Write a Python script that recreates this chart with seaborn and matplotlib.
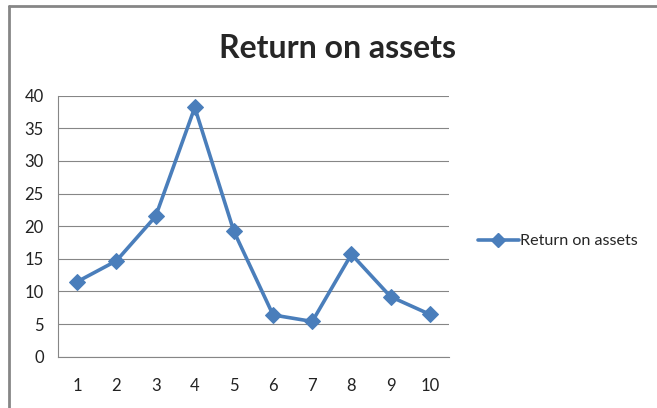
import numpy as np
import pandas as pd
import matplotlib
matplotlib.use("Agg")
import matplotlib.pyplot as plt
import seaborn as sns
from matplotlib.lines import Line2D

# Datos
periods = [1, 2, 3, 4, 5, 6, 7, 8, 9, 10]
roa = [11.5, 14.7, 21.5, 38.2, 19.2, 6.4, 5.4, 15.7, 9.2, 6.5]
y_ticks = [0, 5, 10, 15, 20, 25, 30, 35, 40]

SERIES = "Return on assets"
BLUE = "#4A7EBB"
GREY = "#868686"

df = pd.DataFrame({"period": periods, "value": roa})

sns.set_style("white")
plt.rcParams["font.family"] = ["Lato", "DejaVu Sans"]

fig = plt.figure(figsize=(6.57, 4.08), dpi=100)
ax = fig.add_axes([0.0878, 0.1257, 0.5961, 0.6397])

sns.lineplot(data=df, x="period", y="value", ax=ax, color=BLUE, linewidth=2.6,
             marker="D", markersize=8.5, markeredgecolor=BLUE, legend=False)

ax.set_xlim(0.5, 10.5)
ax.set_ylim(0, 40)
ax.set_yticks(y_ticks)
ax.set_xticks(periods)
ax.set_xticks(np.arange(0.5, 11, 1), minor=True)
ax.tick_params(axis="x", which="major", length=0, pad=15, labelsize=12, colors="#222222")
ax.tick_params(axis="x", which="minor", length=5, color=GREY, width=0.8)
ax.tick_params(axis="y", length=5, color=GREY, width=0.8, labelsize=12, colors="#222222", pad=5)
ax.yaxis.grid(True, color=GREY, linewidth=0.8)
ax.set_axisbelow(True)
ax.set_xlabel("")
ax.set_ylabel("")
for side in ["top", "right"]:
    ax.spines[side].set_visible(False)
for side in ["left", "bottom"]:
    ax.spines[side].set_color(GREY)
    ax.spines[side].set_linewidth(0.8)

fig.text(0.513, 0.882, SERIES, ha="center", va="center", fontsize=23, fontweight="bold")

handle = Line2D([], [], color=BLUE, linewidth=2.6, marker="D", markersize=7.5)
fig.legend([handle], [SERIES], loc="center left", bbox_to_anchor=(0.706, 0.409),
           frameon=False, fontsize=11.6, handlelength=2.5, handletextpad=0.1)

# borde del área del gráfico (solo izquierda y arriba visibles)
fig.add_artist(Line2D([0.0137, 0.0137], [0, 0.985], color=GREY, linewidth=2))
fig.add_artist(Line2D([0.0137, 1.0], [0.985, 0.985], color=GREY, linewidth=2))

fig.savefig("out.png", dpi=100)
